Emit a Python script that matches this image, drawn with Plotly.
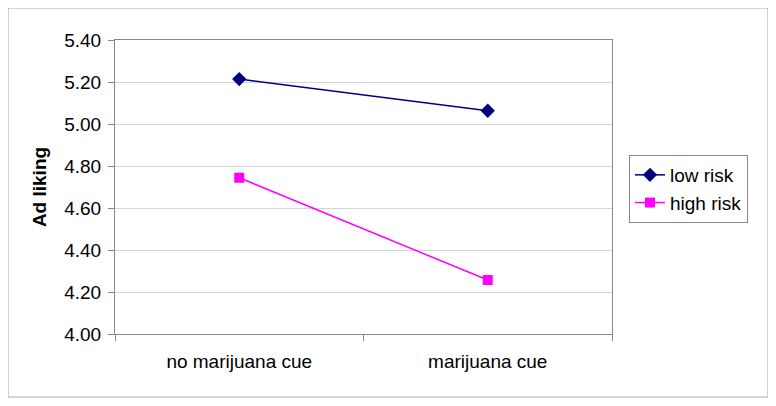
import plotly.graph_objects as go

categories = ["no marijuana cue", "marijuana cue"]
low_risk = [5.214, 5.063]
high_risk = [4.744, 4.257]
y_ticks = [4.00, 4.20, 4.40, 4.60, 4.80, 5.00, 5.20, 5.40]
y_tick_labels = [f"{v:.2f}" for v in y_ticks]

# page body has an 8px margin, so figure is 768x398 placed at (8,8)
W, H = 768, 398
L, T, R, B = 107, 32, 164, 72
pw, ph = W - L - R, H - T - B

def px(xabs):
    return (xabs - 8 - L) / pw

def py(yabs):
    return (H - B - (yabs - 8)) / ph

fig = go.Figure()
fig.add_trace(go.Scatter(
    x=categories, y=low_risk, name="low risk", mode="lines+markers",
    line=dict(color="#000080", width=1.5),
    marker=dict(symbol="diamond", size=11, color="#000080"),
))
fig.add_trace(go.Scatter(
    x=categories, y=high_risk, name="high risk", mode="lines+markers",
    line=dict(color="#FF00FF", width=1.5),
    marker=dict(symbol="square", size=10, color="#FF00FF"),
))

fig.update_layout(
    width=W, height=H,
    margin=dict(l=L, r=R, t=T, b=B),
    paper_bgcolor="white", plot_bgcolor="white",
    font=dict(family="Liberation Sans, Arial, sans-serif", size=19, color="black"),
    legend=dict(
        x=px(629), y=py(155), xanchor="left", yanchor="top",
        bordercolor="#888888", borderwidth=1,
        font=dict(size=19), tracegroupgap=4,
    ),
    shapes=[dict(
        type="rect", xref="paper", yref="paper",
        x0=px(8), x1=px(768), y0=py(397), y1=py(8),
        line=dict(color="#a8a8a8", width=1), layer="below",
    )],
)
fig.update_xaxes(
    type="category", showline=True, mirror=True, linecolor="#888888", linewidth=1,
    ticks="outside", ticklen=6, tickcolor="#888888", tickson="boundaries",
    showgrid=False, tickfont=dict(size=19), range=[-0.5, 1.5],
    ticklabelstandoff=10,
)
fig.update_yaxes(
    range=[4.0, 5.4], tickvals=y_ticks, ticktext=y_tick_labels,
    showline=True, mirror=True, linecolor="#888888", linewidth=1,
    ticks="outside", ticklen=6, tickcolor="#888888",
    showgrid=True, gridcolor="#d4d4d4", gridwidth=1,
    zeroline=False, tickfont=dict(size=19), ticklabelstandoff=3,
    title=dict(text="<b>Ad liking</b>", font=dict(size=19), standoff=12),
)

fig.write_html("out.html")
